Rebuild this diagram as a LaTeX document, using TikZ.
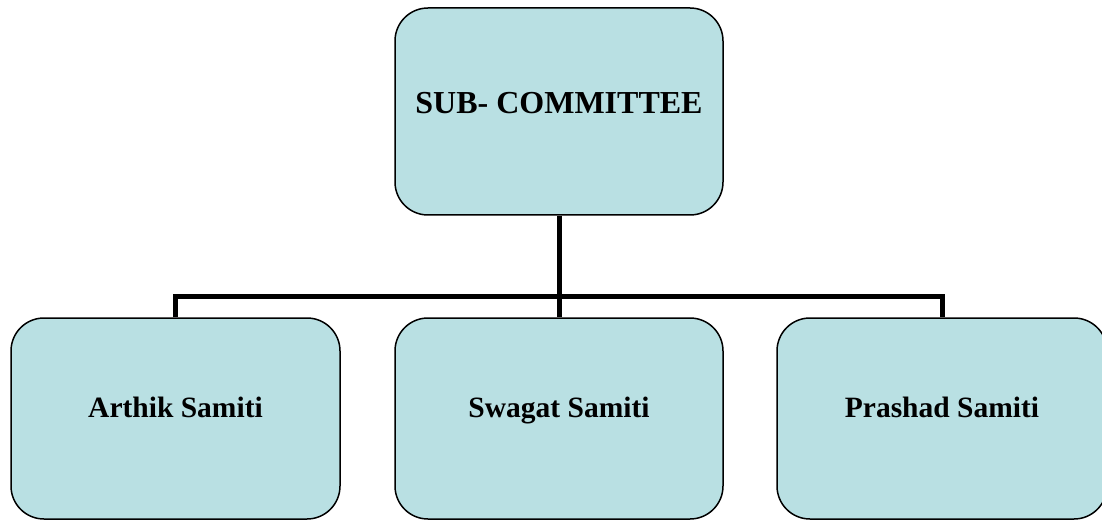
\documentclass[tikz,border=0pt]{standalone}
\usepackage{fontspec}
\setmainfont{Liberation Serif}
\definecolor{boxfill}{HTML}{B9E0E3}
\begin{document}
\begin{tikzpicture}[x=1pt,y=-1pt,
  orgbox/.style={draw=black, line width=1.5pt, fill=boxfill, rounded corners=33pt,
    minimum width=#1, minimum height=207pt, inner sep=0pt,
    font=\fontsize{29.5}{34}\selectfont\bfseries},
  orgbox/.default=328pt,
  link/.style={line width=5pt, line join=miter}]
\useasboundingbox (0,0) rectangle (1102,521);

% committee and its three samitis
\node[orgbox, font=\fontsize{32}{38}\selectfont\bfseries] (top) at (559,111.5) {\raisebox{17pt}{SUB- COMMITTEE}};
\node[orgbox=329pt, minimum height=201pt] (arthik) at (175.5,418.5) {\raisebox{23pt}{Arthik Samiti}};
\node[orgbox, minimum height=201pt] (swagat) at (559,418.5) {\raisebox{23pt}{Swagat Samiti}};
\node[orgbox=330pt, minimum height=201pt] (prashad) at (942,418.5) {\raisebox{23pt}{Prashad Samiti}};

% branching connectors
\coordinate (bus) at (559,296.5);
\draw[link] (top.south) -- (bus) -- (swagat.north);
\draw[link] (arthik.north) |- (bus) -| (prashad.north);
\end{tikzpicture}
\end{document}
